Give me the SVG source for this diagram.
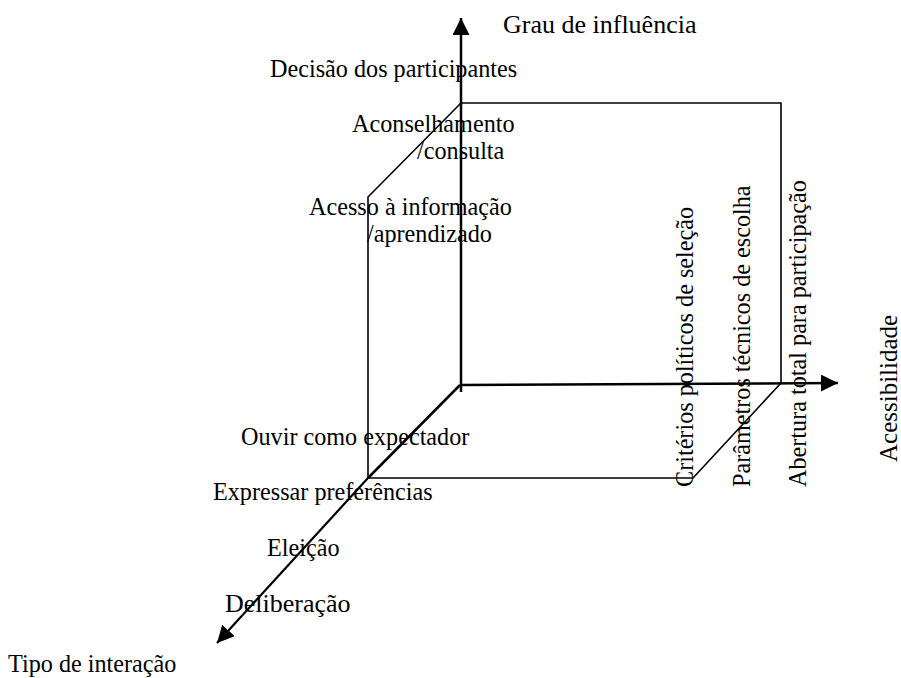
<svg xmlns="http://www.w3.org/2000/svg" width="901" height="678" viewBox="0 0 901 678">
<style>
.lbl{fill:#000;font-size:24.2px}
.t26{font-size:26px}
.t25{font-size:25px}
.axis{stroke:#000;stroke-width:2.5;fill:none}
.cube{stroke:#000;stroke-width:1.6;fill:none}
</style>
<defs>
<marker id="arr" markerUnits="userSpaceOnUse" markerWidth="17" markerHeight="17" refX="16" refY="8" orient="auto" viewBox="0 0 16 16">
<path d="M0,0 L16,8 L0,16 z" fill="#000"/>
</marker>
</defs>
<rect width="901" height="678" fill="#fff"/>
<g id="connectors">
<path class="cube" d="M461,103 H781 V383"/>
<path class="cube" d="M461,103 L368,197 V478 H693 L781,383"/>
<line class="axis" x1="461" y1="392" x2="461" y2="18" marker-end="url(#arr)"/>
<line class="axis" x1="460" y1="385" x2="838" y2="383" marker-end="url(#arr)"/>
<line class="axis" x1="460" y1="385" x2="368" y2="478"/>
<line class="axis" x1="368" y1="478" x2="217" y2="643" style="stroke-width:2.2" marker-end="url(#arr)"/>
</g>
<g font-family="Liberation Serif, DejaVu Serif, Times New Roman, serif">
<g id="axis-influencia">
<text class="lbl t26" x="503" y="33">Grau de influência</text>
<text class="lbl" x="270" y="77">Decisão dos participantes</text>
<text class="lbl" x="352" y="132">Aconselhamento</text>
<text class="lbl" x="417" y="159">/consulta</text>
<text class="lbl" x="309" y="215">Acesso à informação</text>
<text class="lbl" x="367" y="242">/aprendizado</text>
</g>
<g id="axis-interacao">
<text class="lbl" x="241" y="445">Ouvir como expectador</text>
<text class="lbl" x="213" y="500">Expressar preferências</text>
<text class="lbl" x="267" y="556">Eleição</text>
<text class="lbl t26" x="225" y="612">Deliberação</text>
<text class="lbl" x="8" y="672">Tipo de interação</text>
</g>
<g id="axis-acessibilidade">
<text class="lbl" transform="translate(693,487) rotate(-90)">Critérios políticos de seleção</text>
<text class="lbl" transform="translate(750,487) rotate(-90)">Parâmetros técnicos de escolha</text>
<text class="lbl" transform="translate(806,487) rotate(-90)">Abertura total para participação</text>
<text class="lbl t25" transform="translate(897,462) rotate(-90)">Acessibilidade</text>
</g>
</g>
</svg>
